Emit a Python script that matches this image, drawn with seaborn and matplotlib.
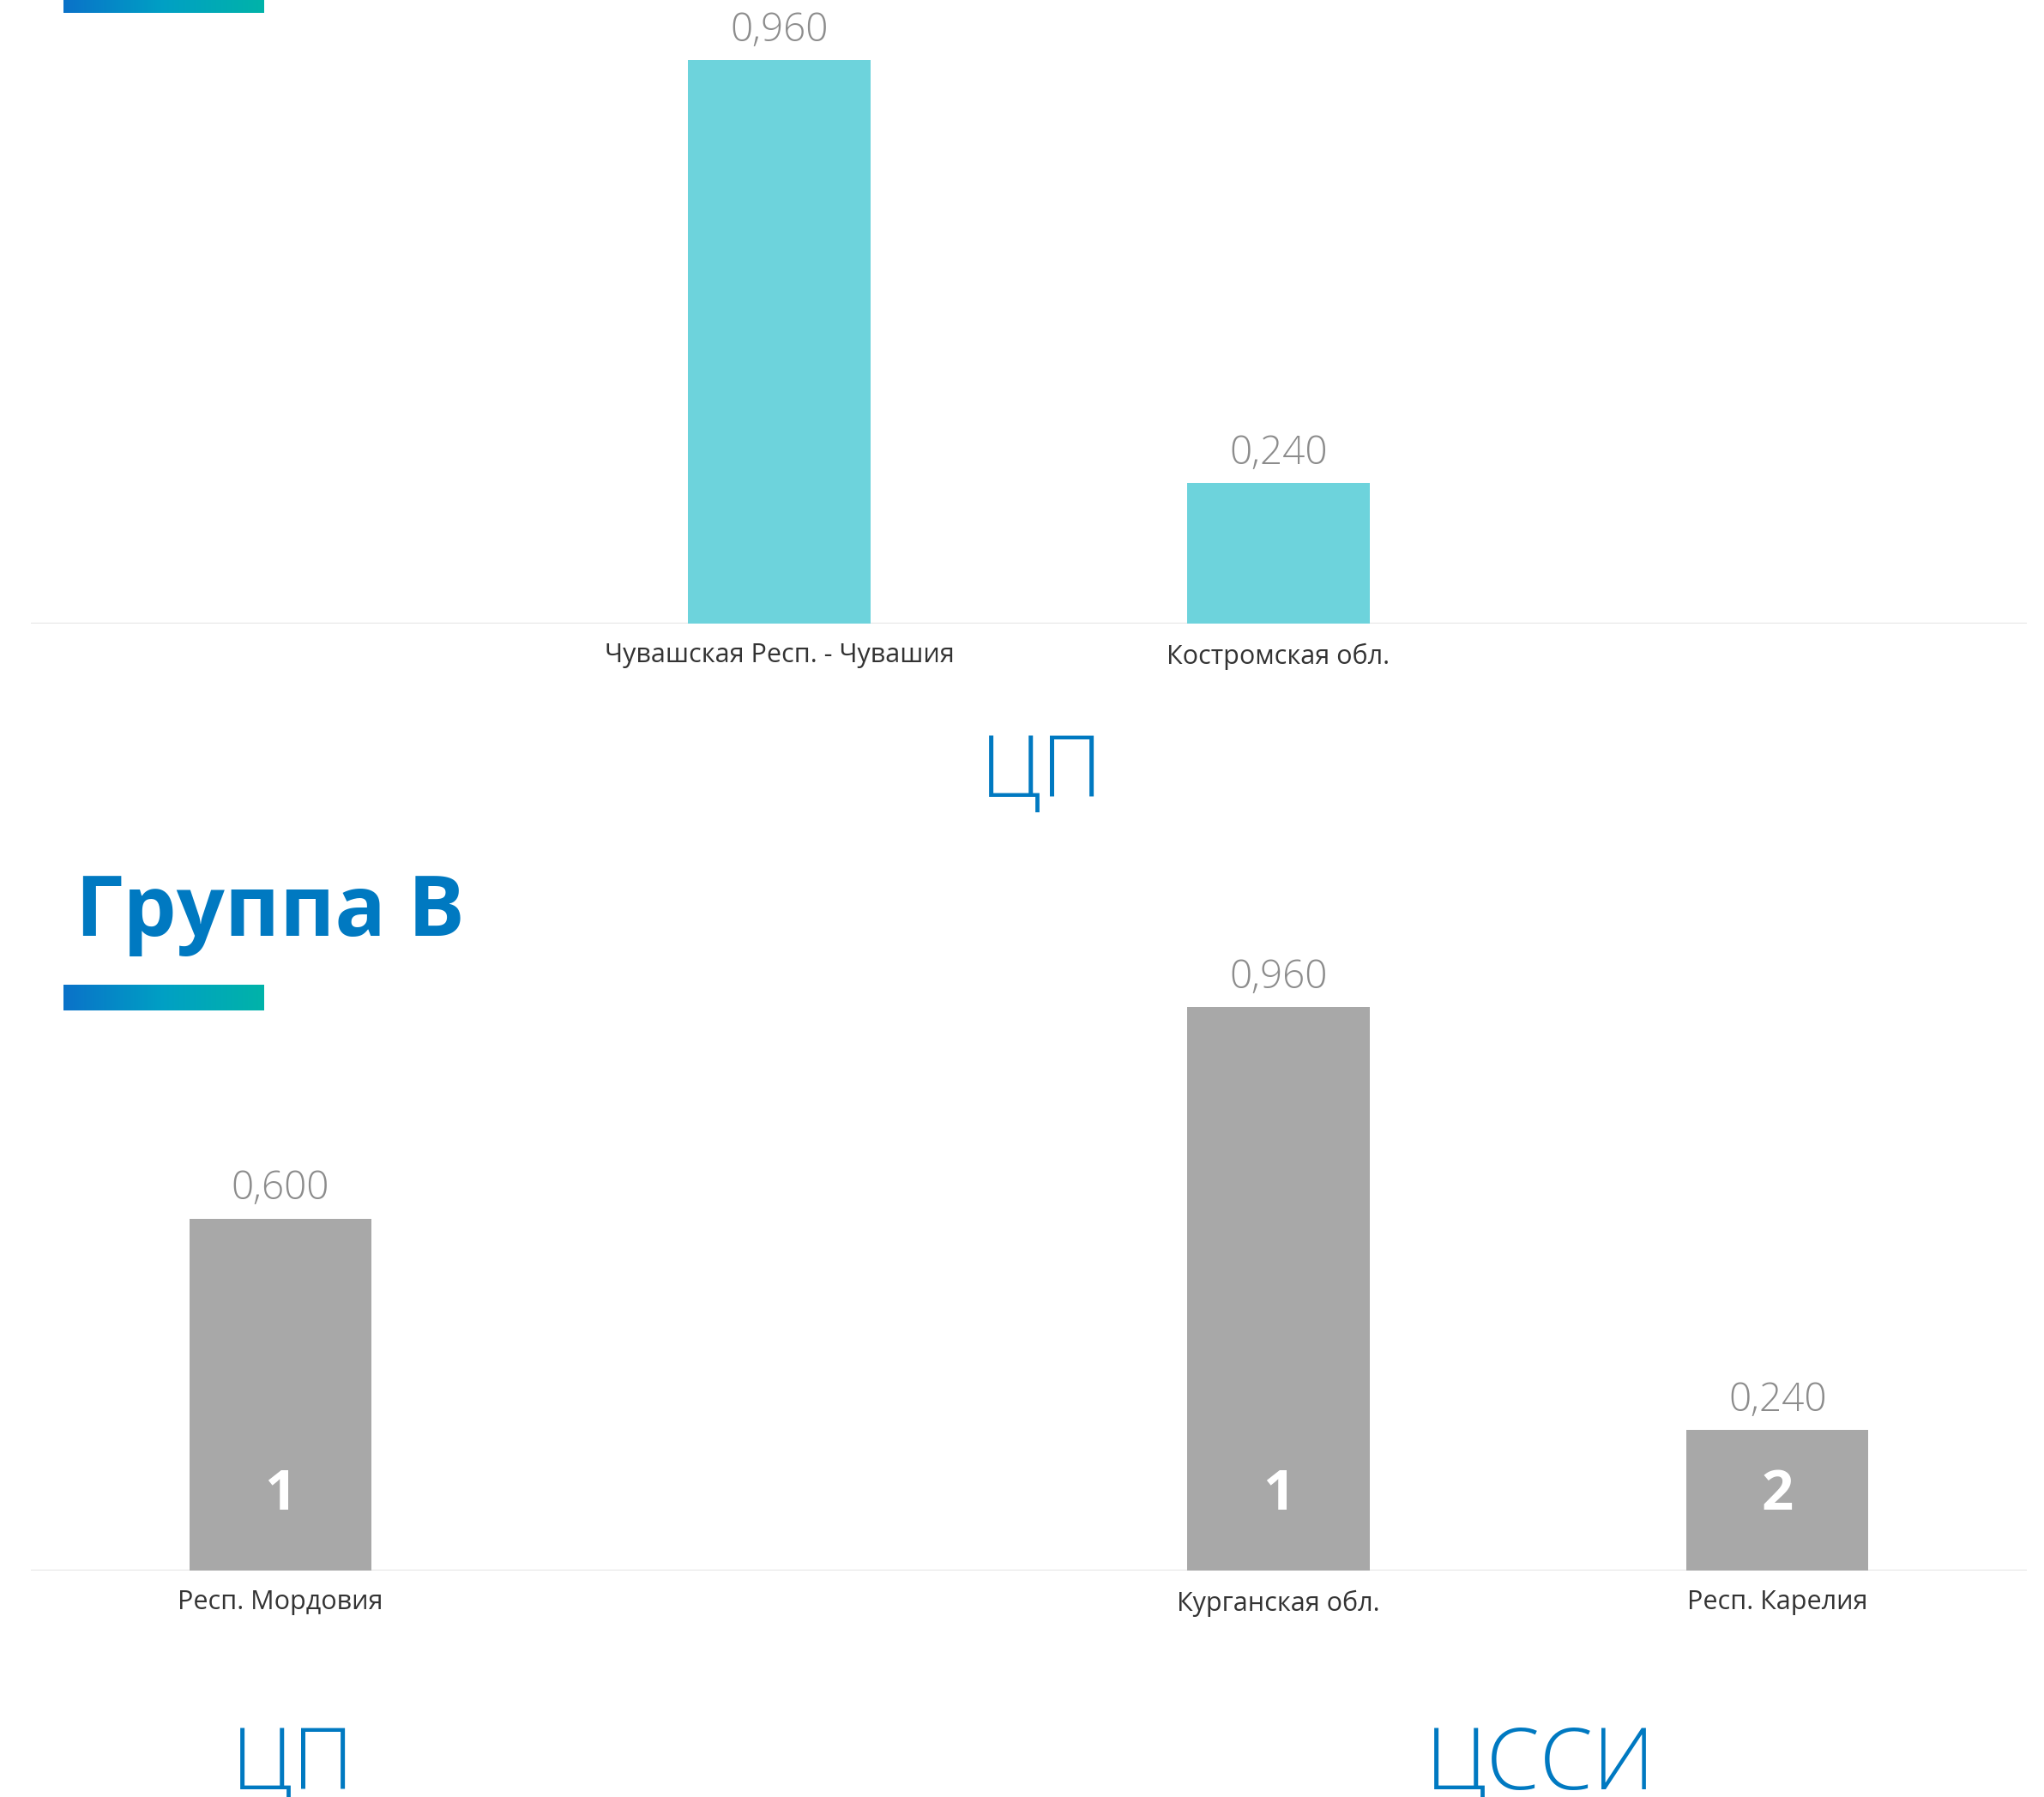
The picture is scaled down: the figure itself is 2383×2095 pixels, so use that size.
import numpy as np
import pandas as pd
import matplotlib
matplotlib.use("Agg")
import matplotlib.pyplot as plt
import seaborn as sns
from matplotlib.colors import LinearSegmentedColormap
from matplotlib.transforms import blended_transform_factory

# --- data ---
top_order = ["", "Чувашская Респ. - Чувашия", "Костромская обл.", " "]
top_regions = ["Чувашская Респ. - Чувашия", "Костромская обл."]
top_values = [0.960, 0.240]
top_group_labels = ["ЦП"]
top_group_members = [["Чувашская Респ. - Чувашия", "Костромская обл."]]

bottom_title = "Группа В"
bottom_order = ["Респ. Мордовия", "", "Курганская обл.", "Респ. Карелия"]
bottom_regions = ["Респ. Мордовия", "Курганская обл.", "Респ. Карелия"]
bottom_values = [0.600, 0.960, 0.240]
bottom_ranks = [1, 1, 2]
bottom_group_labels = ["ЦП", "ЦССИ"]
bottom_group_members = [["Респ. Мордовия"], ["Курганская обл.", "Респ. Карелия"]]

BLUE = "#0079c1"
TEAL = "#6dd3dc"
GREY = "#a8a8a8"
GRAD = LinearSegmentedColormap.from_list("grad", ["#0a72c9", "#00a0c4", "#00b3a9"])

sns.set_theme(style="white")
plt.rcParams["font.family"] = ["Open Sans", "DejaVu Sans"]

W, H = 2383, 2095
fig = plt.figure(figsize=(W / 100, H / 100), dpi=100)


def px_axes(left, top, width, height):
    return fig.add_axes([left / W, 1 - (top + height) / H, width / W, height / H])


def gradient_bar(top):
    gax = px_axes(74, top, 234, 30)
    gax.imshow(np.linspace(0, 1, 256)[None, :], aspect="auto", cmap=GRAD)
    gax.set_axis_off()


def draw_panel(ax, order, regions, values, color, ranks, groups, members, group_y):
    df = pd.DataFrame({"region": regions, "value": values})
    sns.barplot(data=df, x="region", y="value", order=order, color=color,
                width=0.365, saturation=1, edgecolor="none", linewidth=0,
                errorbar=None, ax=ax)
    ax.set_xlim(-0.5, len(order) - 0.5)
    ax.set_ylim(0, 1)
    for s in ax.spines.values():
        s.set_visible(False)
    ax.axhline(0, color="#e6e6e6", lw=1.6, zorder=0)
    ax.set_yticks([])
    ax.set_xlabel("")
    ax.set_ylabel("")
    ax.tick_params(axis="x", length=0, pad=16, labelsize=22, labelcolor="#333333")
    ax.patch.set_alpha(0)

    for r, v in zip(regions, values):
        x = order.index(r)
        ax.annotate(f"{v:.3f}".replace(".", ","), (x, v), xytext=(0, 16),
                    textcoords="offset points", ha="center", va="baseline",
                    fontsize=33, color="#8c8c8c", fontweight="light",
                    annotation_clip=False)
    if ranks is not None:
        for r, k in zip(regions, ranks):
            ax.text(order.index(r), 0.128, str(k), ha="center", va="center",
                    fontsize=47, color="white", fontweight="bold")

    trans = blended_transform_factory(ax.transData, ax.transAxes)
    for g, m in zip(groups, members):
        x = np.mean([order.index(r) for r in m])
        ax.text(x + 0.025, group_y, g, transform=trans, ha="center", va="baseline",
                fontsize=72, color=BLUE, fontweight="light", clip_on=False)


# top panel (title cut off above)
ax_top = px_axes(36, 43, 2327, 684)
draw_panel(ax_top, top_order, top_regions, top_values, TEAL, None,
           top_group_labels, top_group_members, -0.295)
gradient_bar(-15)

# bottom panel
fig.text(88 / W, 1 - 1091 / H, bottom_title, ha="left", va="baseline",
         fontsize=71, fontweight="bold", color=BLUE)
gradient_bar(1148)
ax_bot = px_axes(36, 1147, 2327, 684)
draw_panel(ax_bot, bottom_order, bottom_regions, bottom_values, GREY, bottom_ranks,
           bottom_group_labels, bottom_group_members, -0.373)

fig.savefig("out.png", dpi=100)
